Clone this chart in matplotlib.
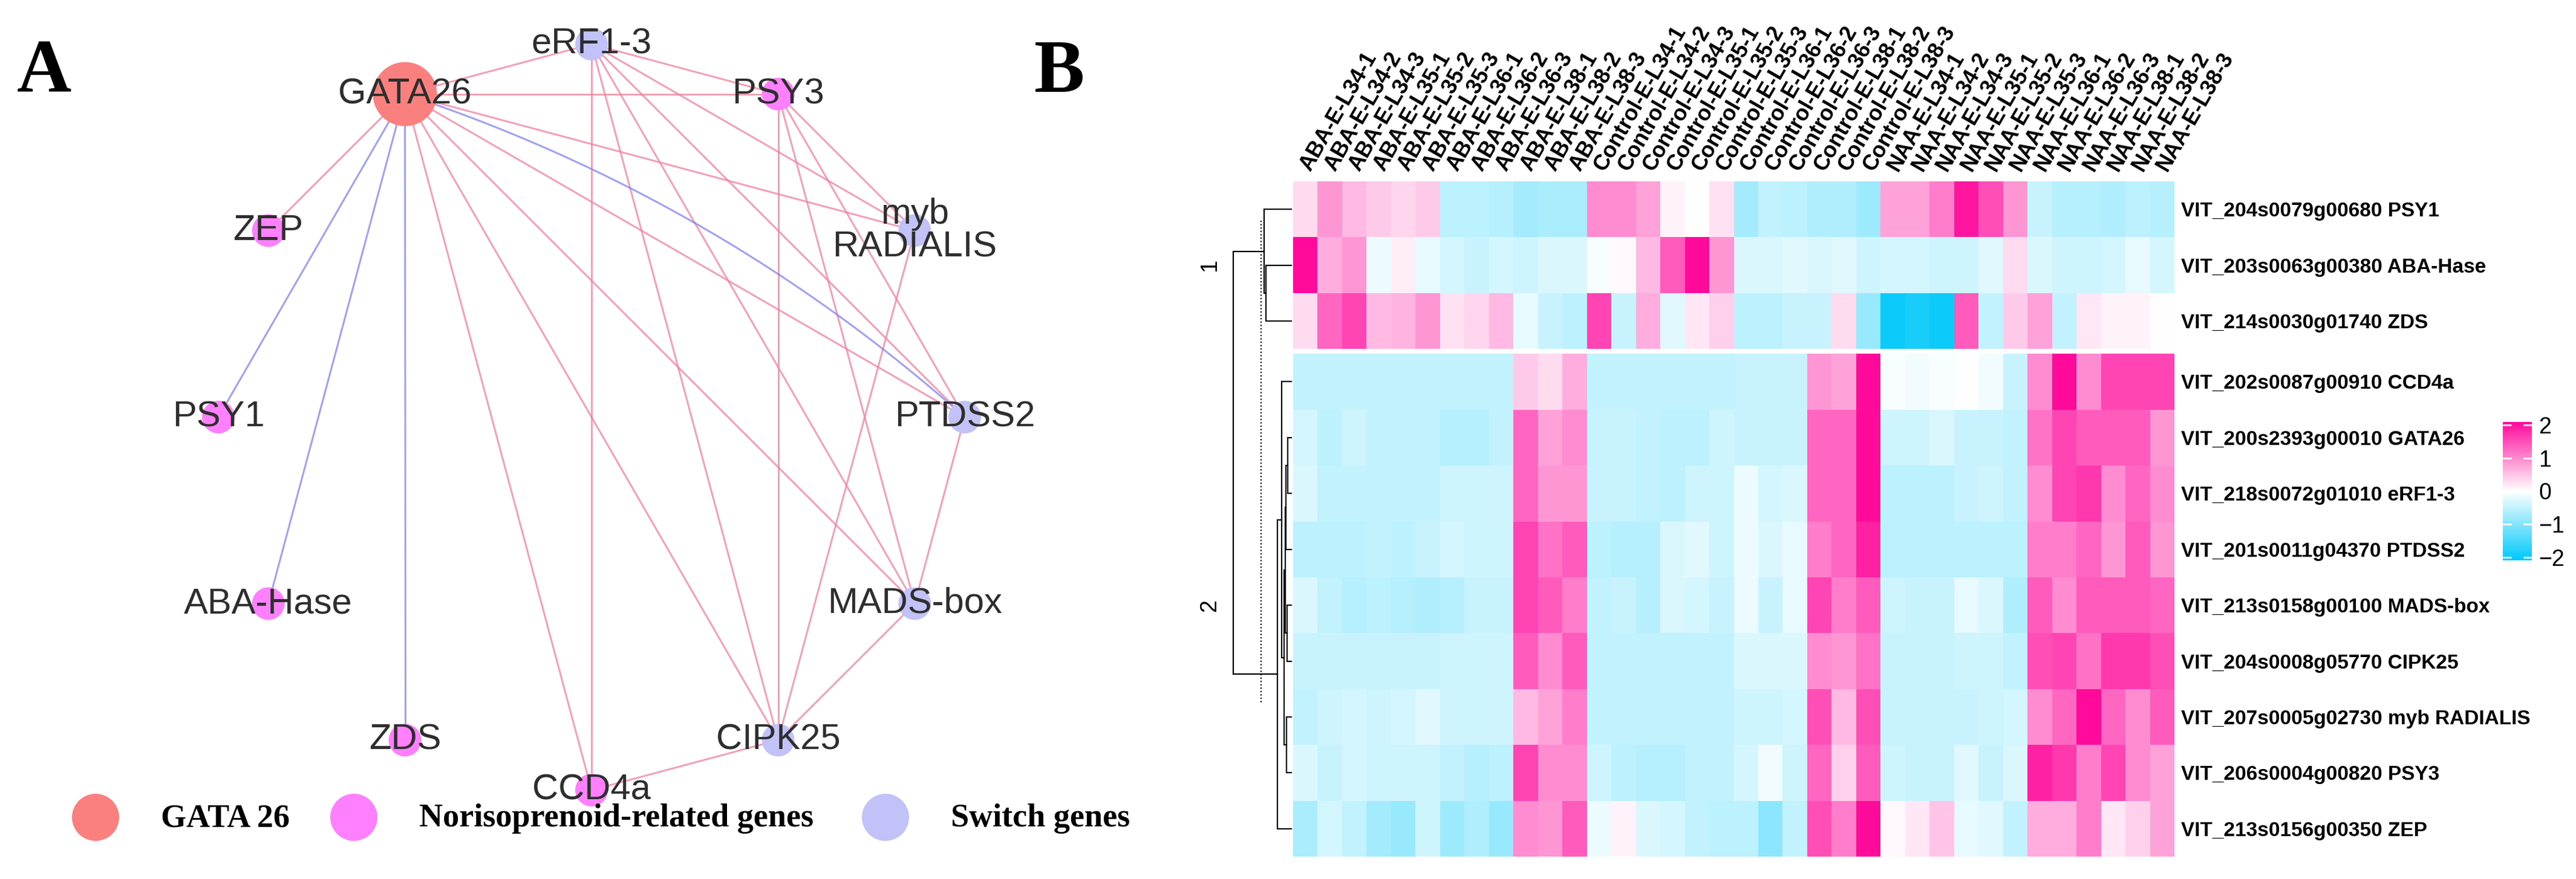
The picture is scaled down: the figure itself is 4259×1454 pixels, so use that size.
import matplotlib
matplotlib.use("Agg")
import matplotlib.pyplot as plt
import numpy as np
from matplotlib.colors import LinearSegmentedColormap, Normalize
from matplotlib.patches import Circle

plt.rcParams["font.family"] = ["Liberation Sans", "DejaVu Sans"]

W, H = 4259, 1454

# ---------------- panel A: network ----------------
netNodes = ["eRF1-3", "PSY3", "myb RADIALIS", "PTDSS2", "MADS-box", "CIPK25",
            "CCD4a", "ZDS", "ABA-Hase", "PSY1", "ZEP", "GATA26"]
netGroups = ["switch", "noriso", "switch", "switch", "switch", "switch",
             "noriso", "noriso", "noriso", "noriso", "noriso", "gata"]
# (source, target, sign) ; "neg" edges are drawn blue
netEdges = [
    ("GATA26", "eRF1-3", "pos"), ("GATA26", "PSY3", "pos"), ("GATA26", "ZEP", "pos"),
    ("GATA26", "PSY1", "neg"), ("GATA26", "ABA-Hase", "neg"), ("GATA26", "ZDS", "neg"),
    ("GATA26", "CCD4a", "pos"), ("GATA26", "CIPK25", "pos"), ("GATA26", "MADS-box", "pos"),
    ("GATA26", "PTDSS2", "pos"), ("GATA26", "myb RADIALIS", "pos"),
    ("eRF1-3", "PSY3", "pos"), ("eRF1-3", "CCD4a", "pos"), ("eRF1-3", "CIPK25", "pos"),
    ("eRF1-3", "MADS-box", "pos"), ("eRF1-3", "PTDSS2", "pos"), ("eRF1-3", "myb RADIALIS", "pos"),
    ("PSY3", "myb RADIALIS", "pos"), ("PSY3", "PTDSS2", "pos"), ("PSY3", "MADS-box", "pos"),
    ("PSY3", "CIPK25", "pos"), ("myb RADIALIS", "CIPK25", "pos"), ("PTDSS2", "MADS-box", "pos"),
    ("MADS-box", "CIPK25", "pos"), ("CIPK25", "CCD4a", "pos"),
]
curvedEdges = [("GATA26", "PTDSS2", "neg")]

legendGroups = ["gata", "noriso", "switch"]
legendLabels = ["GATA 26", "Norisoprenoid-related genes", "Switch genes"]

groupColors = {"gata": "#FA8080", "noriso": "#FF80FF", "switch": "#C2C2F8"}
edgeColors = {"pos": "#F0809F", "neg": "#8080F0"}

# ---------------- panel B: heatmap ----------------
treatments = ["ABA", "Control", "NAA"]
stages = ["L34", "L35", "L36", "L38"]
reps = [1, 2, 3]
colLabels = [f"{t}-E-{s}-{r}" for t in treatments for s in stages for r in reps]

rowLabels = ["VIT_204s0079g00680 PSY1", "VIT_203s0063g00380 ABA-Hase",
             "VIT_214s0030g01740 ZDS", "VIT_202s0087g00910 CCD4a",
             "VIT_200s2393g00010 GATA26", "VIT_218s0072g01010 eRF1-3",
             "VIT_201s0011g04370 PTDSS2", "VIT_213s0158g00100 MADS-box",
             "VIT_204s0008g05770 CIPK25", "VIT_207s0005g02730 myb RADIALIS",
             "VIT_206s0004g00820 PSY3", "VIT_213s0156g00350 ZEP"]

rowPSY1 = [0.3, 0.9, 0.6, 0.45, 0.35, 0.45, -0.55, -0.55, -0.6, -0.75, -0.7, -0.7,
           1.0, 1.0, 0.8, 0.1, 0.0, 0.25, -0.75, -0.5, -0.55, -0.65, -0.65, -0.8,
           0.8, 0.8, 1.1, 2.0, 1.5, 0.9, -0.45, -0.6, -0.6, -0.65, -0.55, -0.6]
rowABAHase = [2.1, 0.7, 0.9, -0.15, 0.15, -0.2, -0.35, -0.45, -0.35, -0.4, -0.3, -0.3,
              -0.05, 0.05, 0.6, 1.4, 2.1, 0.9, -0.3, -0.3, -0.25, -0.3, -0.25, -0.4,
              -0.35, -0.35, -0.4, -0.4, -0.25, 0.3, -0.3, -0.4, -0.4, -0.35, -0.2, -0.35]
rowZDS = [0.3, 1.3, 1.6, 0.6, 0.65, 0.9, 0.25, 0.35, 0.6, -0.2, -0.45, -0.55,
          1.6, -0.45, 0.7, -0.25, 0.2, 0.4, -0.55, -0.55, -0.45, -0.45, 0.3, -0.85,
          -2.0, -1.9, -2.0, 1.4, -0.5, 0.45, 0.8, -0.5, 0.2, 0.1, 0.1, 0.0]
rowCCD4a = [-0.5, -0.5, -0.5, -0.5, -0.5, -0.5, -0.5, -0.5, -0.5, 0.45, 0.3, 0.7,
            -0.5, -0.5, -0.5, -0.5, -0.5, -0.5, -0.45, -0.45, -0.45, 0.9, 0.8, 2.2,
            -0.05, -0.1, -0.05, 0.0, -0.1, -0.45, 1.0, 2.1, 1.0, 1.6, 1.6, 1.6]
rowGATA26 = [-0.35, -0.55, -0.4, -0.5, -0.5, -0.5, -0.6, -0.6, -0.5, 1.3, 0.8, 1.0,
             -0.45, -0.45, -0.5, -0.55, -0.55, -0.4, -0.45, -0.45, -0.45, 1.3, 1.3, 2.2,
             -0.4, -0.4, -0.3, -0.45, -0.45, -0.5, 1.2, 1.6, 1.4, 1.4, 1.4, 0.9]
rowERF13 = [-0.3, -0.5, -0.5, -0.5, -0.5, -0.5, -0.4, -0.4, -0.4, 1.3, 0.9, 0.9,
            -0.45, -0.45, -0.5, -0.55, -0.4, -0.4, -0.15, -0.35, -0.3, 1.3, 1.3, 2.1,
            -0.55, -0.55, -0.55, -0.45, -0.4, -0.5, 1.0, 1.6, 1.7, 1.0, 1.3, 1.0]
rowPTDSS2 = [-0.55, -0.55, -0.55, -0.5, -0.55, -0.45, -0.35, -0.4, -0.4, 1.6, 1.2, 1.4,
             -0.55, -0.6, -0.6, -0.3, -0.25, -0.4, -0.15, -0.3, -0.2, 1.1, 1.3, 1.9,
             -0.55, -0.55, -0.55, -0.55, -0.55, -0.55, 1.1, 1.1, 1.3, 0.9, 1.4, 0.9]
rowMADS = [-0.3, -0.5, -0.6, -0.55, -0.6, -0.65, -0.6, -0.45, -0.45, 1.6, 1.4, 1.1,
           -0.5, -0.45, -0.6, -0.3, -0.35, -0.45, -0.15, -0.45, -0.2, 1.6, 1.1, 1.4,
           -0.4, -0.45, -0.45, -0.2, -0.3, -0.65, 1.4, 1.0, 1.4, 1.4, 1.4, 1.3]
rowCIPK25 = [-0.45, -0.45, -0.45, -0.45, -0.45, -0.45, -0.4, -0.4, -0.4, 1.4, 1.0, 1.4,
             -0.5, -0.5, -0.5, -0.5, -0.5, -0.5, -0.3, -0.3, -0.3, 1.0, 0.9, 1.2,
             -0.45, -0.45, -0.45, -0.4, -0.4, -0.5, 1.5, 1.6, 1.2, 1.7, 1.7, 1.5]
rowMyb = [-0.5, -0.4, -0.35, -0.4, -0.35, -0.25, -0.4, -0.4, -0.4, 0.6, 0.8, 1.1,
          -0.5, -0.5, -0.5, -0.5, -0.5, -0.5, -0.4, -0.4, -0.35, 1.5, 0.6, 1.5,
          -0.45, -0.45, -0.45, -0.45, -0.4, -0.35, 1.0, 1.3, 2.2, 1.3, 1.0, 1.4]
rowPSY3 = [-0.3, -0.45, -0.35, -0.4, -0.4, -0.4, -0.5, -0.6, -0.55, 1.6, 1.0, 1.0,
           -0.4, -0.55, -0.6, -0.6, -0.5, -0.5, -0.35, -0.1, -0.4, 1.3, 0.4, 1.4,
           -0.4, -0.45, -0.45, -0.25, -0.45, -0.3, 1.9, 1.7, 1.1, 1.6, 1.0, 0.8]
rowZEP = [-0.7, -0.35, -0.5, -0.75, -0.85, -0.4, -0.8, -0.65, -0.85, 1.0, 0.9, 1.4,
          -0.15, 0.1, -0.3, -0.35, -0.5, -0.55, -0.55, -0.95, -0.5, 1.5, 1.1, 2.2,
          0.05, 0.2, 0.5, -0.2, -0.25, -0.5, 0.7, 0.7, 1.1, 0.2, 0.4, 0.8]

# row dendrogram: (left, right, height); leaves are row indices, merged nodes numbered 12+
dendroMerges = [
    (4, 5, 6), (12, 6, 9), (7, 8, 7), (13, 14, 10), (9, 10, 8), (15, 16, 12),
    (3, 17, 16), (18, 11, 23), (1, 2, 42), (0, 20, 45), (21, 19, 96),
]
cutHeight = 50
clusterLabels = ["1", "2"]
clusterRows = [(0, 3), (3, 12)]

fig = plt.figure(figsize=(W / 100, H / 100), dpi=100)

# ---- network, drawn in pixel coordinates of a full-figure axes ----
axNet = fig.add_axes([0, 0, 1, 1])
axNet.set_xlim(0, W)
axNet.set_ylim(H, 0)
axNet.axis("off")

cx, cy, radius = 978, 690, 617
pos = {}
for i, name in enumerate(netNodes):
    theta = np.deg2rad(30 * i)
    pos[name] = (cx + radius * np.sin(theta), cy - radius * np.cos(theta))

for a, b, kind in netEdges:
    (x0, y0), (x1, y1) = pos[a], pos[b]
    axNet.plot([x0, x1], [y0, y1], color=edgeColors[kind], lw=2.2, alpha=0.75,
               solid_capstyle="round", zorder=1)

for a, b, kind in curvedEdges:
    p0, p2 = np.array(pos[a]), np.array(pos[b])
    d = p2 - p0
    normal = np.array([d[1], -d[0]]) / np.hypot(*d)
    ctrl = (p0 + p2) / 2 + 110 * normal
    t = np.linspace(0, 1, 100)[:, None]
    curve = (1 - t) ** 2 * p0 + 2 * t * (1 - t) * ctrl + t ** 2 * p2
    axNet.plot(curve[:, 0], curve[:, 1], color=edgeColors[kind], lw=2.2, alpha=0.75, zorder=1)

for name, grp in zip(netNodes, netGroups):
    r = 53 if grp == "gata" else 27
    axNet.add_patch(Circle(pos[name], r, color=groupColors[grp], lw=0, zorder=2))
    axNet.text(pos[name][0], pos[name][1], name.replace(" ", "\n"), ha="center", va="center",
               fontsize=43, color="#2E2E2E", linespacing=1.0, zorder=3)

legendX = [158, 585, 1464]
legendY = 1352
for x, grp, lab in zip(legendX, legendGroups, legendLabels):
    axNet.add_patch(Circle((x, legendY), 39, color=groupColors[grp], lw=0))
    axNet.text(x + 108, legendY + 2, lab, ha="left", va="center", fontsize=39, fontweight="bold",
               family=["Liberation Serif", "DejaVu Serif"])

axNet.text(73, 122, "A", ha="center", va="center", fontsize=90, fontweight="bold",
           family=["Liberation Serif", "DejaVu Serif"])
axNet.text(1752, 122, "B", ha="center", va="center", fontsize=90, fontweight="bold",
           family=["Liberation Serif", "DejaVu Serif"])

# ---- heatmap ----
values = np.array([rowPSY1, rowABAHase, rowZDS, rowCCD4a, rowGATA26, rowERF13, rowPTDSS2,
                   rowMADS, rowCIPK25, rowMyb, rowPSY3, rowZEP])
gap = 8 / 92.4
nTop = 3
meshValues = np.vstack([values[:nTop], np.full((1, values.shape[1]), np.nan), values[nTop:]])
yEdges = np.concatenate([np.arange(nTop + 1), [nTop + gap],
                         np.arange(nTop + 1, values.shape[0] + 1) + gap])
xEdges = np.arange(values.shape[1] + 1)
rowCenters = np.arange(values.shape[0]) + 0.5 + np.where(np.arange(values.shape[0]) >= nTop, gap, 0)

cmap = LinearSegmentedColormap.from_list("bwp", ["#00C8FA", "#FFFFFF", "#FF0A9B"])
cmap.set_bad("white")
norm = Normalize(vmin=-2.1, vmax=2.1)

hmLeft, hmRight, hmTop, hmBottom = 2138, 3595, 300, 1417
axHm = fig.add_axes([hmLeft / W, 1 - hmBottom / H, (hmRight - hmLeft) / W, (hmBottom - hmTop) / H])
mesh = axHm.pcolormesh(xEdges, yEdges, np.ma.masked_invalid(meshValues), cmap=cmap, norm=norm)
axHm.set_xlim(0, values.shape[1])
axHm.set_ylim(values.shape[0] + gap, 0)
for s in axHm.spines.values():
    s.set_visible(False)
axHm.xaxis.tick_top()
axHm.set_xticks(np.arange(values.shape[1]) + 0.5)
axHm.set_xticklabels(colLabels, rotation=60, ha="left", va="center", rotation_mode="anchor",
                     fontsize=26, fontweight="bold")
axHm.yaxis.tick_right()
axHm.set_yticks(rowCenters)
axHm.set_yticklabels(rowLabels, fontsize=24, fontweight="bold")
axHm.tick_params(axis="x", length=0, pad=14)
axHm.tick_params(axis="y", length=0, pad=8)

# ---- row dendrogram ----
axDen = fig.add_axes([2030 / W, 1 - hmBottom / H, 108 / W, (hmBottom - hmTop) / H])
axDen.set_xlim(105, -3)
axDen.set_ylim(values.shape[0] + gap, 0)
axDen.axis("off")
nodeY = {i: rowCenters[i] for i in range(values.shape[0])}
nodeH = {i: 0 for i in range(values.shape[0])}
for k, (a, b, h) in enumerate(dendroMerges):
    nid = values.shape[0] + k
    axDen.plot([nodeH[a], h, h, nodeH[b]], [nodeY[a], nodeY[a], nodeY[b], nodeY[b]],
               color="black", lw=1.6, solid_joinstyle="miter")
    nodeY[nid] = (nodeY[a] + nodeY[b]) / 2
    nodeH[nid] = h
axDen.vlines(cutHeight, 0.7, 9.35, colors="black", linestyles=(0, (1, 1.5)), lw=1.6)
for lab, (r0, r1) in zip(clusterLabels, clusterRows):
    yMid = (rowCenters[r0] + rowCenters[r1 - 1]) / 2
    axDen.text(135, yMid, lab, rotation=90, ha="center", va="center", fontsize=27, clip_on=False)

# ---- colour key ----
cax = fig.add_axes([4138 / W, 1 - 927 / H, 48 / W, 229 / H])
cb = fig.colorbar(mesh, cax=cax)
cb.outline.set_visible(False)
cb.set_ticks([-2, -1, 0, 1, 2])
cax.tick_params(left=True, right=True, labelleft=False, labelright=True, direction="in",
                length=10, width=2, color="white", labelsize=27, pad=8)

fig.savefig("out.png", dpi=100)
